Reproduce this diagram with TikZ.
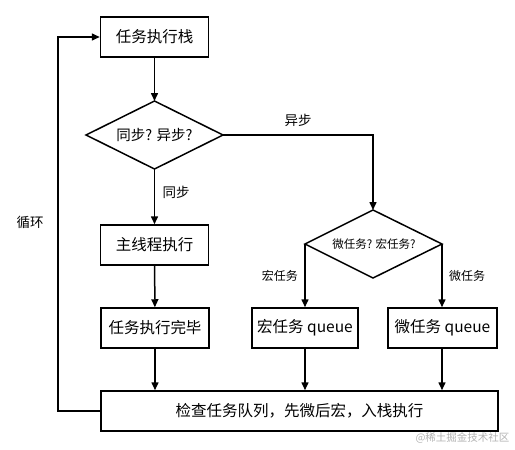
\documentclass[tikz,border=0pt]{standalone}
\usepackage{fontspec}
\setmainfont{Noto Sans CJK SC}
\usetikzlibrary{shapes.geometric,arrows.meta}
\begin{document}
\begin{tikzpicture}[x=1pt,y=-1pt,
  box/.style={draw,line width=1.5pt,minimum width=108pt,minimum height=40pt,inner sep=0pt,font=\fontsize{15.5}{17}\selectfont},
  lbl/.style={font=\fontsize{13.5}{15}\selectfont},
  slbl/.style={font=\fontsize{12}{14}\selectfont},
  arr/.style={line width=1.5pt,-{Triangle[length=8pt,width=7pt]}},
  ln/.style={line width=1.5pt}]
\useasboundingbox (0,0) rectangle (515,450);
\node[box] (stack) at (154.5,37) {任务执行栈};
\path (86,135) coordinate (d1l) (223,135) coordinate (d1r) (154.5,101) coordinate (d1t) (154.5,169) coordinate (d1b);
\draw[ln] (d1l) -- (d1t) -- (d1r) -- (d1b) -- cycle;
\node[font=\fontsize{14.5}{16}\selectfont] (d1) at (154.5,135) {同步? 异步?};
\node[box] (main) at (154.5,245) {主线程执行};
\node[box] (done) at (155,328) {任务执行完毕};
\node[box,minimum width=397pt] (check) at (299.5,411) {检查任务队列，先微后宏，入栈执行};
\path (305,244) coordinate (d2l) (442,244) coordinate (d2r) (373,210) coordinate (d2t) (373,278) coordinate (d2b);
\draw[ln] (d2l) -- (d2t) -- (d2r) -- (d2b) -- cycle;
\node[font=\fontsize{11.5}{13}\selectfont] (d2) at (374,244) {微任务? 宏任务?};
\node[box,minimum width=106pt] (macro) at (305,328) {宏任务 queue};
\node[box,minimum width=109pt] (micro) at (442.5,328) {微任务 queue};
\coordinate (loop) at (58,411);
\coordinate (looptop) at (58,37);
\coordinate (turn) at (373,135);
\draw[arr] (stack) -- (d1t);
\draw[arr] (d1b) -- (main) node[pos=0.42,right=4pt,lbl] {同步};
\draw[arr] (main) -- (done);
\draw[arr] (done) -- (done|-check.north);
\draw[arr] (d1r) -- (turn) -- (d2t);
\node[lbl] at (298,120) {异步};
\draw[arr] (d2l) -- (macro.north-|d2l) node[midway,left=3pt,slbl] {宏任务};
\draw[arr] (d2r) -- (micro.north-|d2r) node[midway,right=3pt,slbl] {微任务};
\draw[arr] (macro.south-|d2l) -- (check.north-|d2l);
\draw[arr] (micro.south-|d2r) -- (check.north-|d2r);
\draw[arr] (check.west) -- (loop) -- (looptop) -- (stack.west);
\node[lbl] at (30,222) {循环};
\node[font=\fontsize{10.5}{12}\selectfont,text=black!30,anchor=east] at (513,438) {@稀土掘金技术社区};
\end{tikzpicture}
\end{document}
